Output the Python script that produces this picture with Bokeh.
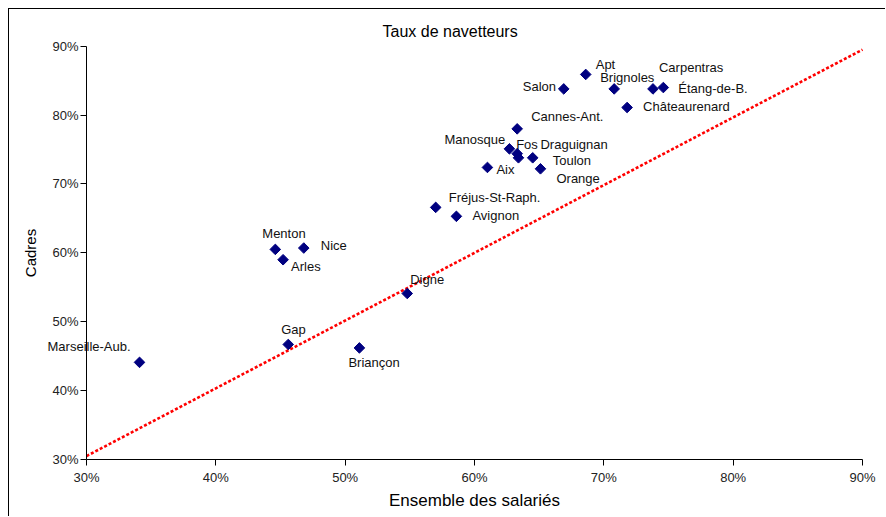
from math import pi
from bokeh.plotting import figure
from bokeh.models import ColumnDataSource, FixedTicker, PrintfTickFormatter, Range1d, LabelSet
from bokeh.core.properties import value
from bokeh.embed import file_html
from bokeh.resources import INLINE

# ---- data (values in %) ----
communes = ["Apt", "Salon", "Brignoles", "Carpentras", "Étang-de-B.", "Châteaurenard",
            "Cannes-Ant.", "Manosque", "Fos", "Draguignan", "Toulon", "Aix", "Orange",
            "Fréjus-St-Raph.", "Avignon", "Digne", "Menton", "Nice", "Arles", "Gap",
            "Briançon", "Marseille-Aub."]
ensemble_salaries = [68.6, 66.9, 70.8, 73.8, 74.6, 71.8,
                     63.3, 62.7, 63.3, 63.4, 64.5, 61.0, 65.1,
                     57.0, 58.6, 54.8, 44.6, 46.8, 45.2, 45.6,
                     51.1, 34.1]
cadres = [85.9, 83.8, 83.8, 83.8, 84.0, 81.1,
          78.0, 75.1, 74.4, 73.8, 73.8, 72.4, 72.2,
          66.6, 65.3, 54.1, 60.5, 60.7, 59.0, 46.7,
          46.2, 44.1]
trend_x = [30, 90]
trend_y = [30.5, 89.5]
tick_values = [30, 40, 50, 60, 70, 80, 90]
axis_min, axis_max = 30, 90

# ---- label placement (screen px offsets, style only; dy positive = up) ----
label_dx = [10, -41, -14, 6, 15, 16,
            14, -65, -1, 22, 20, 9, 16,
            13, 16, 3, -13, 17, 8, -7,
            -11, -92]
label_dy = [10, 2, 11, 21, -1, 1,
            12, 9, 9, 13, -3, -2, -10,
            10, 1, 14, 16, 3, -7, 15,
            -15, 16]

# ---- geometry (canvas pixels) ----
W, H = 877, 508
TOP = 31                       # frame top (title sits above)
AX_L, AX_R = 77, 853           # where 30% and 90% fall horizontally
AX_T, AX_B = 36.7, 450         # where 90% and 30% fall vertically
sx = (AX_R - AX_L) / (axis_max - axis_min)
sy = (AX_B - AX_T) / (axis_max - axis_min)
x_start = axis_min - AX_L / sx
x_end = axis_max + (W - AX_R) / sx
y_end = axis_max + (AX_T - TOP) / sy
y_start = axis_min - (H - AX_B) / sy

src = ColumnDataSource(dict(x=ensemble_salaries, y=cadres, name=communes,
                            dx=label_dx, dy=label_dy))

FONT = "Liberation Sans"

p = figure(width=W, height=H, output_backend="svg", toolbar_location=None,
           x_range=Range1d(x_start, x_end), y_range=Range1d(y_start, y_end),
           min_border_left=0, min_border_right=0, min_border_top=TOP, min_border_bottom=0,
           title="Taux de navetteurs")
p.styles = {"margin-left": "8px", "margin-top": "8px",
            "border-left": "1px solid #000000", "border-top": "1px solid #000000"}

p.title.align = "left"
p.title.offset = 373
p.title.standoff = 2
p.title.text_font = FONT
p.title.text_font_size = "16px"
p.title.text_font_style = "normal"
p.title.text_color = "#000000"

p.outline_line_color = None
p.xgrid.grid_line_color = None
p.ygrid.grid_line_color = None
p.background_fill_color = "white"
p.border_fill_color = "white"

p.xaxis.fixed_location = axis_min
p.yaxis.fixed_location = axis_min
for ax in (p.xaxis[0], p.yaxis[0]):
    ax.bounds = (axis_min, axis_max)
    ax.ticker = FixedTicker(ticks=tick_values)
    ax.formatter = PrintfTickFormatter(format="%d%%")
    ax.minor_tick_line_color = None
    ax.major_tick_in = 0
    ax.major_tick_out = 6
    ax.axis_line_color = "#000000"
    ax.major_tick_line_color = "#000000"
    ax.major_label_text_font = FONT
    ax.major_label_text_font_size = "13px"
    ax.major_label_text_color = "#222222"
    ax.axis_label_text_font = FONT
    ax.axis_label_text_font_style = "normal"
    ax.axis_label_text_color = "#000000"

p.xaxis.axis_label = "Ensemble des salariés"
p.xaxis.axis_label_text_font_size = "17px"
p.xaxis.major_label_standoff = 4
p.xaxis.axis_label_standoff = 3
p.yaxis.axis_label = "Cadres"
p.yaxis.axis_label_text_font_size = "15px"
p.yaxis.major_label_standoff = 2
p.yaxis.axis_label_standoff = 10

p.line(trend_x, trend_y, line_color="#FF0000", line_width=2.6, line_dash="3 2")

p.scatter("x", "y", source=src, marker="square", angle=pi / 4, size=7.5,
          fill_color="#000080", line_color="#000080")

labels = LabelSet(x="x", y="y", text="name", source=src, x_offset="dx", y_offset="dy",
                  text_font=value(FONT), text_font_size="13px", text_color="#111111",
                  text_align="left", text_baseline="middle")
p.add_layout(labels)

open("out.html", "w").write(file_html(p, INLINE))
